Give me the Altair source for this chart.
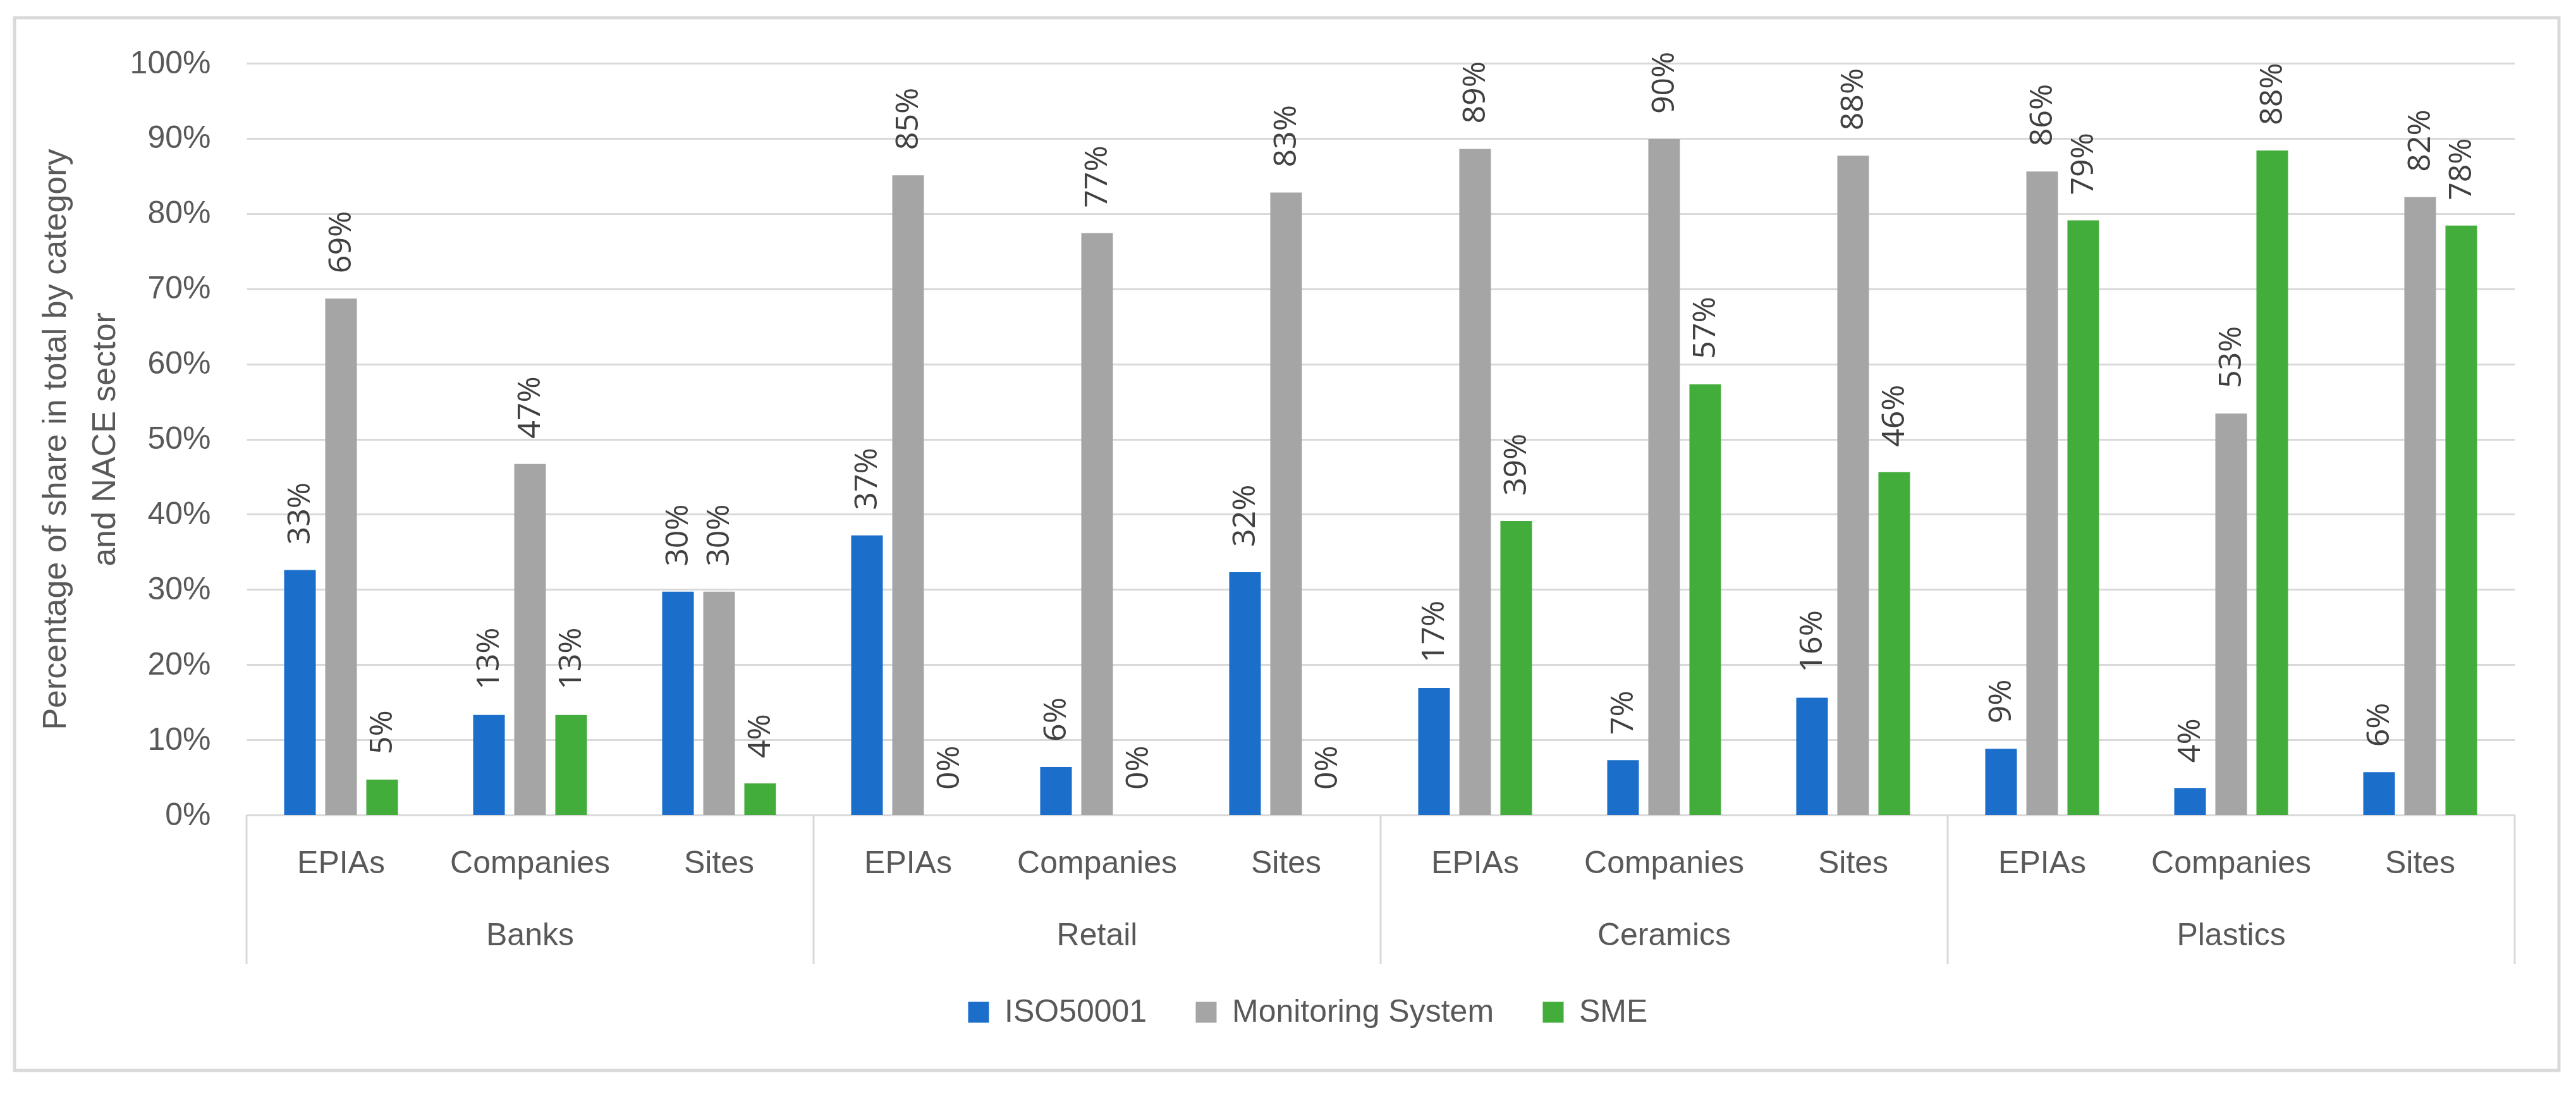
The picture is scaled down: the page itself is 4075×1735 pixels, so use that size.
import altair as alt
import pandas as pd

sectors = ["Banks", "Retail", "Ceramics", "Plastics"]
categories = ["EPIAs", "Companies", "Sites"]
series = ["ISO50001", "Monitoring System", "SME"]
colors = ["#1B6FCB", "#A5A5A5", "#43AD3B"]

# values in percent, order: sector x category
iso = [32.6, 13.3, 29.7, 37.2, 6.4, 32.3, 16.9, 7.3, 15.6, 8.8, 3.6, 5.7]
monitoring = [68.7, 46.7, 29.7, 85.1, 77.4, 82.8, 88.6, 89.9, 87.7, 85.6, 53.4, 82.2]
sme = [4.7, 13.3, 4.2, 0.0, 0.0, 0.0, 39.1, 57.3, 45.6, 79.1, 88.4, 78.4]

W, H = 3588, 1189

keys = [f"{s}|{c}" for s in sectors for c in categories]
rows = []
for vals, name in zip([iso, monitoring, sme], series):
    for k, v in zip(keys, vals):
        rows.append({"key": k, "series": name, "value": v / 100.0})
df = pd.DataFrame(rows)

cat_df = pd.DataFrame({"key": keys, "cat": [k.split("|")[1] for k in keys]})
grp_df = pd.DataFrame({"key": [f"{s}|Companies" for s in sectors], "sector": sectors})
sep_df = pd.DataFrame({"key": [f"{s}|EPIAs" for s in sectors]})
end_df = pd.DataFrame({"key": [keys[-1]]})
box_df = pd.DataFrame({"a": [0]})

GRID = "#D9D9D9"
TXT = "#595959"
FONT = "Liberation Sans"

x_scale = alt.Scale(domain=keys, paddingInner=0, paddingOuter=0)
x_axis = alt.Axis(labels=False, ticks=False, title=None, grid=False,
                  domainColor=GRID, domainWidth=3)

def X(**kw):
    return alt.X("key:N", scale=x_scale, axis=x_axis, sort=keys, **kw)

y_scale = alt.Scale(domain=[0, 1])
y_axis = alt.Axis(
    values=[i / 10 for i in range(11)], format=".0%",
    labelFont=FONT, labelFontSize=50, labelColor=TXT, labelPadding=57,
    ticks=False, domain=False, grid=True, gridColor=GRID, gridWidth=3,
    title=["Percentage of share in total by category", "and NACE sector"],
    titleFont=FONT, titleFontSize=52, titleFontWeight="normal", titleColor=TXT,
    titleAngle=270, titleX=-328, titleY=H / 2, titleAlign="center",
    titleBaseline="top", titleLineHeight=78,
)

offset = alt.XOffset("series:N", sort=series,
                     scale=alt.Scale(domain=series, paddingInner=0.23, paddingOuter=0.915))

bars = alt.Chart(df).mark_bar().encode(
    x=X(),
    xOffset=offset,
    y=alt.Y("value:Q", scale=y_scale, axis=y_axis),
    color=alt.Color("series:N", sort=series,
                    scale=alt.Scale(domain=series, range=colors),
                    legend=alt.Legend(
                        title=None, orient="none", direction="horizontal",
                        legendX=1133, legendY=1476,
                        symbolType="square", symbolSize=1089, symbolStrokeWidth=0,
                        labelFont=FONT, labelFontSize=50, labelColor=TXT,
                        labelOffset=16, columnPadding=68, labelLimit=1000,
                    )),
)

labels = alt.Chart(df).mark_text(
    angle=270, align="left", baseline="middle", dx=40,
    font="Open Sans", fontSize=50, color="#404040",
).encode(
    x=X(),
    xOffset=offset,
    y=alt.Y("value:Q", scale=y_scale, axis=y_axis),
    text=alt.Text("value:Q", format=".0%"),
)

cat_text = alt.Chart(cat_df).mark_text(
    baseline="alphabetic", align="center", font=FONT, fontSize=50, color=TXT,
).encode(x=X(), y=alt.value(H + 92), text="cat:N")

grp_text = alt.Chart(grp_df).mark_text(
    baseline="alphabetic", align="center", font=FONT, fontSize=50, color=TXT,
).encode(x=X(), y=alt.value(H + 206), text="sector:N")

seps = alt.Chart(sep_df).mark_rule(color=GRID, strokeWidth=3).encode(
    x=X(bandPosition=0), y=alt.value(H), y2=alt.value(H + 236))

end_sep = alt.Chart(end_df).mark_rule(color=GRID, strokeWidth=3).encode(
    x=X(bandPosition=1), y=alt.value(H), y2=alt.value(H + 236))

box = alt.Chart(box_df).mark_rect(
    fillOpacity=0, stroke=GRID, strokeWidth=5,
).encode(x=alt.value(-367), x2=alt.value(3658), y=alt.value(-72), y2=alt.value(1593))

chart = alt.layer(box, bars, labels, cat_text, grp_text, seps, end_sep).properties(
    width=W, height=H,
    autosize=alt.AutoSizeParams(type="none"),
    padding={"left": 382, "top": 92, "right": 89, "bottom": 438},
    background="white",
).configure_view(stroke=None)

chart.save("out.html", embed_options={"renderer": "svg", "actions": False})
